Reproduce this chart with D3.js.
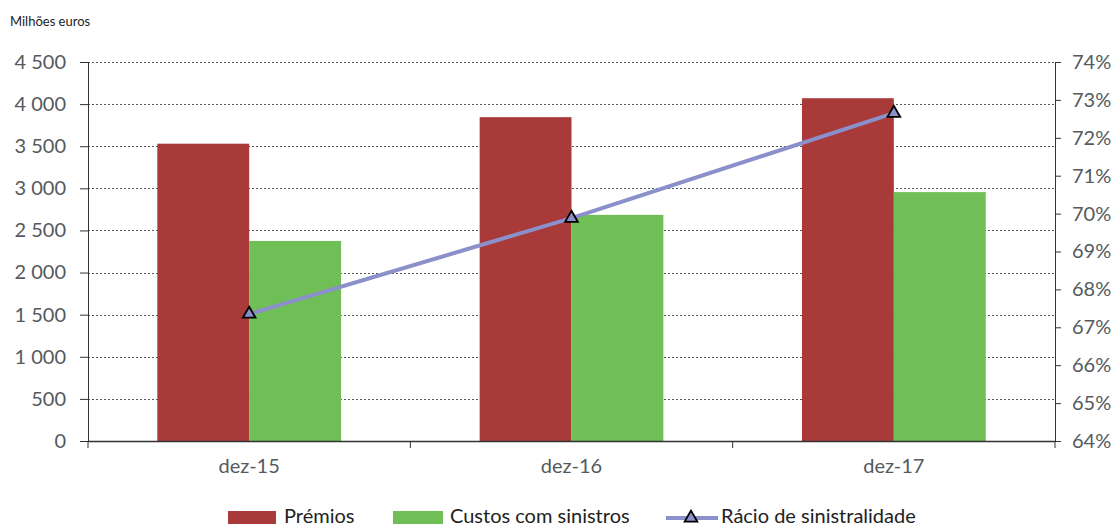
<!DOCTYPE html>
<html>
<head>
<meta charset="utf-8">
<script src="https://cdn.jsdelivr.net/npm/d3@7"></script>
<style>
  html, body { margin: 0; padding: 0; background: #fff; }
  svg text { font-family: Lato, "Open Sans", "DejaVu Sans", sans-serif; }
</style>
</head>
<body>
<svg id="chart" width="1120" height="528"></svg>
<script>
// Data
const categories = ["dez-15", "dez-16", "dez-17"];
const premios = [3530, 3845, 4070];
const custos = [2375, 2685, 2955];
const racio = [67.35, 69.88, 72.65];
const leftTicks = [0, 500, 1000, 1500, 2000, 2500, 3000, 3500, 4000, 4500];
const rightTicks = [64, 65, 66, 67, 68, 69, 70, 71, 72, 73, 74];
const seriesNames = ["Prémios", "Custos com sinistros", "Rácio de sinistralidade"];

const colors = { premios: "#A83A3A", custos: "#70BF56", racio: "#8B8FCA", text: "#545a5e" };

const svg = d3.select("#chart");
const m = { left: 88, right: 1055, top: 62, bottom: 441 };

const x = d3.scaleBand().domain(categories).range([m.left, m.right]).paddingInner(0.43).paddingOuter(0.215);
const xs = d3.scaleBand().domain(["p", "c"]).range([0, x.bandwidth()]);
const y = d3.scaleLinear().domain([0, 4500]).range([m.bottom, m.top]);
const y2 = d3.scaleLinear().domain([64, 74]).range([m.bottom, m.top]);

const fmt = v => d3.format(",")(v).replace(/,/g, " ");

// Dotted horizontal gridlines
svg.append("g").selectAll("line").data(leftTicks.filter(d => d > 0)).join("line")
  .attr("x1", m.left).attr("x2", m.right)
  .attr("y1", d => Math.round(y(d)) + 0.5).attr("y2", d => Math.round(y(d)) + 0.5)
  .attr("stroke", "#555").attr("stroke-width", 1).attr("stroke-dasharray", "2,2");

// Bars
const groups = svg.append("g").selectAll("g").data(categories).join("g")
  .attr("transform", d => `translate(${x(d)},0)`);
groups.append("rect")
  .attr("x", xs("p")).attr("width", xs.bandwidth())
  .attr("y", (d, i) => y(premios[i])).attr("height", (d, i) => y(0) - y(premios[i]))
  .attr("fill", colors.premios);
groups.append("rect")
  .attr("x", xs("c")).attr("width", xs.bandwidth())
  .attr("y", (d, i) => y(custos[i])).attr("height", (d, i) => y(0) - y(custos[i]))
  .attr("fill", colors.custos);

// Left axis
const gL = svg.append("g").attr("transform", `translate(${m.left},0)`)
  .call(d3.axisLeft(y).tickValues(leftTicks).tickFormat(fmt).tickSize(8).tickPadding(14));
gL.select(".domain").attr("stroke", "#333");
gL.selectAll(".tick line").attr("stroke", "#333");
gL.selectAll("text").attr("font-size", 20).attr("fill", colors.text);

// Right axis
const gR = svg.append("g").attr("transform", `translate(${m.right},0)`)
  .call(d3.axisRight(y2).tickValues(rightTicks).tickFormat(d => d + "%").tickSize(6).tickPadding(11));
gR.select(".domain").attr("stroke", "#333");
gR.selectAll(".tick line").attr("stroke", "#333");
gR.selectAll("text").attr("font-size", 20).attr("fill", colors.text);

// Bottom axis with ticks between categories
const gB = svg.append("g").attr("transform", `translate(0,${m.bottom})`);
gB.append("line").attr("x1", m.left).attr("x2", m.right).attr("y1", 0.5).attr("y2", 0.5)
  .attr("stroke", "#333").attr("stroke-width", 1.5);
const step = (m.right - m.left) / categories.length;
gB.selectAll("line.sep").data(d3.range(categories.length + 1)).join("line").attr("class", "sep")
  .attr("x1", i => m.left + i * step).attr("x2", i => m.left + i * step)
  .attr("y1", 0).attr("y2", 7).attr("stroke", "#333");
gB.selectAll("text").data(categories).join("text")
  .attr("x", d => x(d) + x.bandwidth() / 2).attr("y", 32)
  .attr("text-anchor", "middle").attr("font-size", 20).attr("fill", colors.text).text(d => d);

// Ratio line with triangle markers
const cx = d => x(d) + x.bandwidth() / 2;
const line = d3.line().x(d => cx(d[0])).y(d => y2(d[1]));
svg.append("path").datum(categories.map((c, i) => [c, racio[i]]))
  .attr("d", line).attr("fill", "none").attr("stroke", colors.racio).attr("stroke-width", 4);
const tri = d3.symbol().type(d3.symbolTriangle).size(70);
svg.append("g").selectAll("path").data(categories).join("path")
  .attr("d", tri).attr("transform", (d, i) => `translate(${cx(d)},${y2(racio[i])})`)
  .attr("fill", colors.racio).attr("stroke", "#000").attr("stroke-width", 1.8);

// Unit label
svg.append("text").attr("x", 10).attr("y", 26).attr("font-size", 13).attr("fill", "#222").text("Milhões euros");

// Legend
const lg = svg.append("g").attr("transform", "translate(0,517)");
lg.append("rect").attr("x", 228).attr("y", -6).attr("width", 48).attr("height", 13).attr("fill", colors.premios);
lg.append("text").attr("x", 284).attr("y", 6).attr("font-size", 20).attr("fill", "#222").text(seriesNames[0]);
lg.append("rect").attr("x", 393).attr("y", -6).attr("width", 50).attr("height", 13).attr("fill", colors.custos);
lg.append("text").attr("x", 450).attr("y", 6).attr("font-size", 20).attr("fill", "#222").text(seriesNames[1]);
lg.append("line").attr("x1", 666).attr("x2", 718).attr("y1", 1).attr("y2", 1)
  .attr("stroke", colors.racio).attr("stroke-width", 4);
lg.append("path").attr("d", tri).attr("transform", "translate(691,1)")
  .attr("fill", colors.racio).attr("stroke", "#000").attr("stroke-width", 1.8);
lg.append("text").attr("x", 721).attr("y", 6).attr("font-size", 20).attr("fill", "#222").text(seriesNames[2]);
</script>
</body>
</html>
